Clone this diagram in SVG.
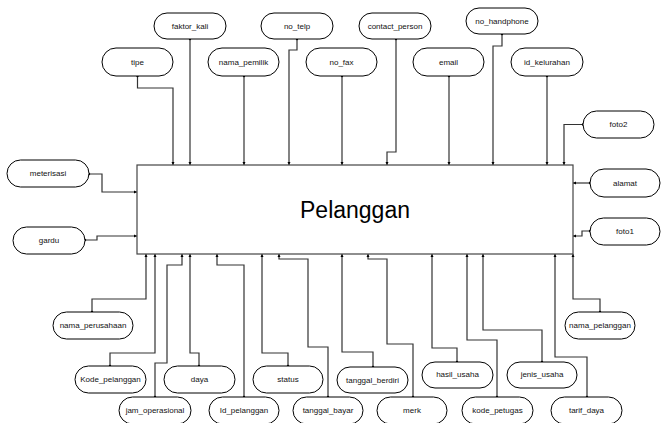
<svg xmlns="http://www.w3.org/2000/svg" width="662" height="423" viewBox="0 0 662 423">
  <defs>
    <marker id="dot" markerUnits="userSpaceOnUse" markerWidth="4" markerHeight="4" refX="2" refY="2">
      <circle cx="2" cy="2" r="1.2" fill="#000"/>
    </marker>
    <marker id="arrow" markerUnits="userSpaceOnUse" markerWidth="4" markerHeight="4" refX="3" refY="2" orient="auto">
      <path d="M0,0.5 L3,2 L0,3.5 Z" fill="#000"/>
    </marker>
  </defs>
  <style>
    .attr { fill: #fff; stroke: #000; stroke-width: 1; }
    .lbl { font-family: "Liberation Sans", Arial, sans-serif; font-size: 8px; fill: #111; text-anchor: middle; dominant-baseline: central; }
    .entity { fill: #fff; stroke: #444; stroke-width: 1.2; }
    .title { font-family: "Liberation Sans", Arial, sans-serif; font-size: 23px; fill: #000; text-anchor: middle; dominant-baseline: central; }
    .conn path { fill: none; stroke: #333; stroke-width: 1.2; marker-start: url(#dot); marker-end: url(#arrow); }
  </style>
  <rect width="662" height="423" fill="#fff"/>

  <!-- connectors: attribute -> entity -->
  <g id="connectors" class="conn">
    <path d="M137.5,76 V88 H173 V165"/>
    <path d="M190,39 V165"/>
    <path d="M244,76 V165"/>
    <path d="M297,39 V50 H289 V165"/>
    <path d="M342,76 V165"/>
    <path d="M396,39 V152 H387 V165"/>
    <path d="M449,76 V165"/>
    <path d="M502,34 V46 H493 V165"/>
    <path d="M547,76 V165"/>
    <path d="M583,124.5 H564 V165"/>
    <path d="M89,174 H102 V192 H137"/>
    <path d="M85,240 H97 V236 H137"/>
    <path d="M590,183 H573"/>
    <path d="M590,231 H582 V236 H573"/>
    <path d="M92,312 V299 H146 V254"/>
    <path d="M110,366 V353 H155 V254"/>
    <path d="M155,397 V363 H167 V265 H182 V254"/>
    <path d="M199,366 V353 H190 V254"/>
    <path d="M244,397 V265 H217 V254"/>
    <path d="M288,366 V353 H262 V254"/>
    <path d="M328,397 V347 H308 V259 H279 V254"/>
    <path d="M373,367 V352 H342 V254"/>
    <path d="M413,397 V344 H387 V259 H368 V254"/>
    <path d="M457,362 V348 H432 V254"/>
    <path d="M497,397 V340 H467 V254"/>
    <path d="M542,362 V330 H483 V254"/>
    <path d="M587,397 V357 H555 V254"/>
    <path d="M600,312 V299 H573 V254"/>
  </g>

  <!-- entity -->
  <g id="Pelanggan">
    <rect class="entity" x="137" y="165" width="436" height="89"/>
    <text class="title" x="355" y="210">Pelanggan</text>
  </g>

  <!-- attributes above -->
  <g id="tipe"><rect class="attr" x="102" y="48" width="71" height="28" rx="14"/><text class="lbl" x="137.5" y="62">tipe</text></g>
  <g id="faktor_kali"><rect class="attr" x="154" y="13" width="72" height="26" rx="13"/><text class="lbl" x="190" y="26">faktor_kali</text></g>
  <g id="nama_pemilik"><rect class="attr" x="208" y="48" width="71" height="28" rx="14"/><text class="lbl" x="243.5" y="62">nama_pemilik</text></g>
  <g id="no_telp"><rect class="attr" x="261" y="13" width="72" height="26" rx="13"/><text class="lbl" x="297" y="26">no_telp</text></g>
  <g id="no_fax"><rect class="attr" x="306" y="48" width="71" height="28" rx="14"/><text class="lbl" x="341.5" y="62">no_fax</text></g>
  <g id="contact_person"><rect class="attr" x="359" y="13" width="72" height="26" rx="13"/><text class="lbl" x="395" y="26">contact_person</text></g>
  <g id="email"><rect class="attr" x="413" y="48" width="71" height="28" rx="14"/><text class="lbl" x="448.5" y="62">email</text></g>
  <g id="no_handphone"><rect class="attr" x="466" y="8" width="72" height="26" rx="13"/><text class="lbl" x="502" y="21">no_handphone</text></g>
  <g id="id_kelurahan"><rect class="attr" x="511" y="48" width="72" height="28" rx="14"/><text class="lbl" x="547" y="62">id_kelurahan</text></g>
  <g id="foto2"><rect class="attr" x="583" y="111" width="71" height="27" rx="13.5"/><text class="lbl" x="618.5" y="124.5">foto2</text></g>

  <!-- attributes left / right -->
  <g id="meterisasi"><rect class="attr" x="7" y="160" width="82" height="27" rx="13.5"/><text class="lbl" x="48" y="173.5">meterisasi</text></g>
  <g id="gardu"><rect class="attr" x="13" y="227" width="72" height="27" rx="13.5"/><text class="lbl" x="49" y="240.5">gardu</text></g>
  <g id="alamat"><rect class="attr" x="590" y="169" width="70" height="28" rx="14"/><text class="lbl" x="625" y="183">alamat</text></g>
  <g id="foto1"><rect class="attr" x="590" y="218" width="70" height="27" rx="13.5"/><text class="lbl" x="625" y="231.5">foto1</text></g>

  <!-- attributes below -->
  <g id="nama_perusahaan"><rect class="attr" x="53" y="312" width="80" height="27" rx="13.5"/><text class="lbl" x="93" y="325.5">nama_perusahaan</text></g>
  <g id="Kode_pelanggan"><rect class="attr" x="75" y="366" width="71" height="27" rx="13.5"/><text class="lbl" x="110.5" y="379.5">Kode_pelanggan</text></g>
  <g id="jam_operasional"><rect class="attr" x="119" y="397" width="72" height="27" rx="13.5"/><text class="lbl" x="155" y="410">jam_operasional</text></g>
  <g id="daya"><rect class="attr" x="164" y="366" width="71" height="27" rx="13.5"/><text class="lbl" x="199.5" y="379.5">daya</text></g>
  <g id="Id_pelanggan"><rect class="attr" x="209" y="397" width="70" height="27" rx="13.5"/><text class="lbl" x="244" y="410">Id_pelanggan</text></g>
  <g id="status"><rect class="attr" x="253" y="366" width="70" height="27" rx="13.5"/><text class="lbl" x="288" y="379.5">status</text></g>
  <g id="tanggal_bayar"><rect class="attr" x="293" y="397" width="70" height="27" rx="13.5"/><text class="lbl" x="328" y="410">tanggal_bayar</text></g>
  <g id="tanggal_berdiri"><rect class="attr" x="337" y="367" width="71" height="26" rx="13"/><text class="lbl" x="372.5" y="380">tanggal_berdiri</text></g>
  <g id="merk"><rect class="attr" x="377" y="397" width="70" height="27" rx="13.5"/><text class="lbl" x="412" y="410">merk</text></g>
  <g id="hasil_usaha"><rect class="attr" x="422" y="362" width="71" height="26" rx="13"/><text class="lbl" x="457.5" y="374.5">hasil_usaha</text></g>
  <g id="kode_petugas"><rect class="attr" x="462" y="397" width="71" height="27" rx="13.5"/><text class="lbl" x="497.5" y="410">kode_petugas</text></g>
  <g id="jenis_usaha"><rect class="attr" x="507" y="362" width="70" height="26" rx="13"/><text class="lbl" x="542" y="374.5">jenis_usaha</text></g>
  <g id="tarif_daya"><rect class="attr" x="551" y="397" width="71" height="27" rx="13.5"/><text class="lbl" x="586.5" y="410">tarif_daya</text></g>
  <g id="nama_pelanggan"><rect class="attr" x="565" y="312" width="70" height="27" rx="13.5"/><text class="lbl" x="600" y="325.5">nama_pelanggan</text></g>
</svg>
